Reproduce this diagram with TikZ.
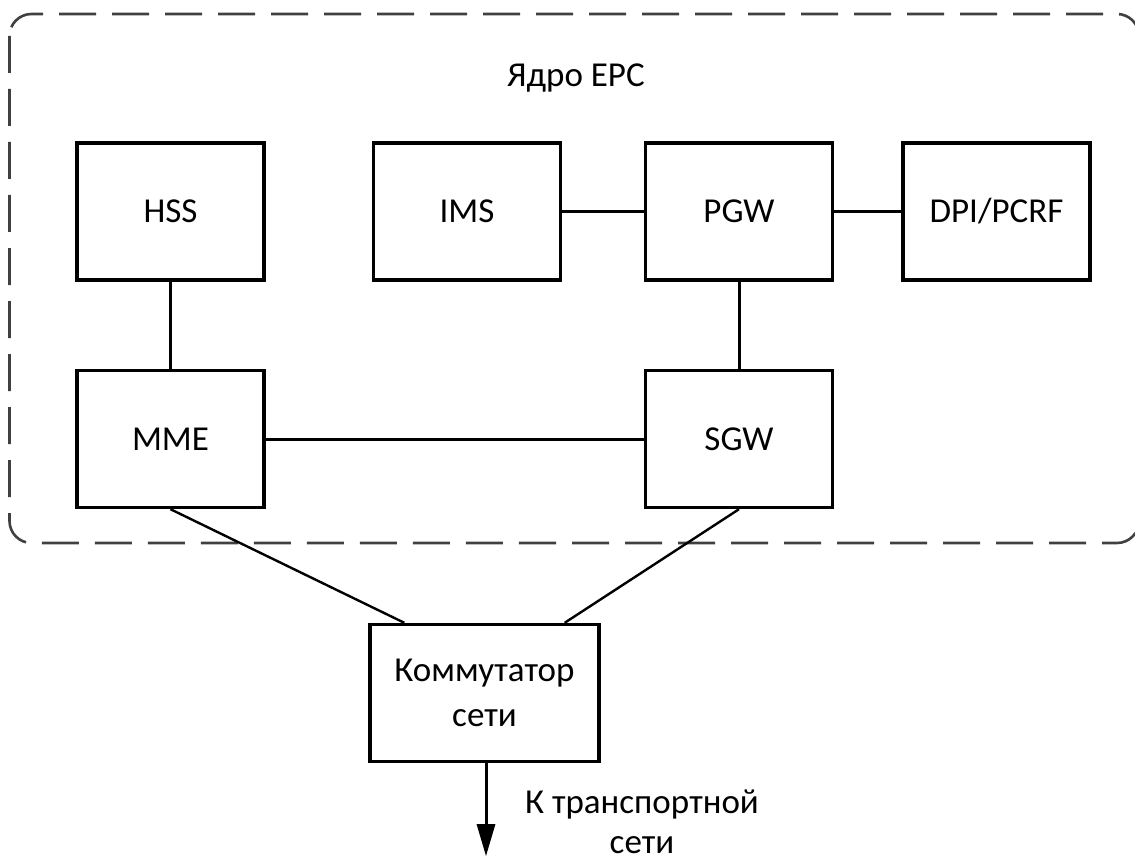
\documentclass[tikz,border=0pt]{standalone}
\usepackage{fontspec}
\setmainfont{Carlito}
\usetikzlibrary{arrows.meta,calc}
\begin{document}
\begin{tikzpicture}[x=1pt,y=-1pt,
  unit/.style={draw, line width=3.4pt, minimum width=187pt, minimum height=137pt,
    inner sep=0pt, font=\fontsize{35}{45}\selectfont, align=center},
  caption/.style={inner sep=0pt, font=\fontsize{35}{40}\selectfont, align=center},
  link/.style={line width=3pt},
  feed/.style={line width=2.4pt},
  corearea/.style={draw=black!75, line width=2.6pt, dash pattern=on 37pt off 16pt,
    rounded corners=22pt}
  ]
\useasboundingbox (0,0) rectangle (1135,861);

% EPC core boundary
\draw[corearea] (9.5,14) rectangle (1139,543);
\node[caption] (title) at (576,78) {Ядро EPC};

% network elements
\node[unit] (hss) at (170.5,211.5) {HSS};
\node[unit] (ims) at (467,211.5) {IMS};
\node[unit] (pgw) at (739,211.5) {PGW};
\node[unit] (dpi) at (996.5,211.5) {DPI/PCRF};
\node[unit] (mme) at (170.5,439) {MME};
\node[unit] (sgw) at (739,439) {SGW};
\node[unit, minimum width=229pt] (sw) at (484.5,693) {Коммутатор\\сети};

% interfaces inside the core
\draw[link] (hss) -- (mme);
\draw[link] (ims) -- (pgw);
\draw[link] (pgw) -- (dpi);
\draw[link] (pgw) -- (sgw);
\draw[link] (mme) -- (sgw);

% uplinks to the switch
\draw[feed] (mme.south) -- ([xshift=36pt]sw.north west);
\draw[feed] (sgw.south) -- ([xshift=-36pt]sw.north east);

% exit to the transport network
\coordinate (out) at ($(sw.south)+(1.5,93)$);
\draw[link,-{Triangle[length=32pt,width=18pt]}] ([xshift=1.5pt]sw.south) -- (out);
\node[caption] (outlabel) at (642,822) {К транспортной\\сети};
\end{tikzpicture}
\end{document}
